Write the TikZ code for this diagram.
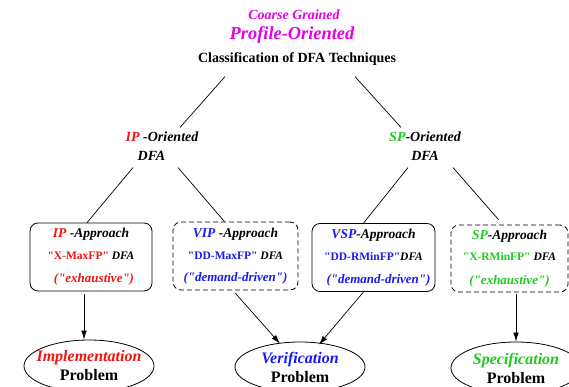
\documentclass[tikz,border=0pt]{standalone}
\usepackage{fontspec}
\setmainfont{Liberation Serif}[Ligatures=TeXOff]
\usetikzlibrary{shapes.geometric, arrows.meta, calc}
\definecolor{coarsemag}{RGB}{230, 0, 230}
\definecolor{ipred}{RGB}{240, 20, 20}
\definecolor{vipblue}{RGB}{25, 25, 240}
\definecolor{spgreen}{RGB}{30, 200, 30}
\newcommand{\bfit}{\bfseries\itshape}
\newcommand{\fsz}[1]{\fontsize{#1}{19}\selectfont}

\tikzset{
    label text/.style={inner sep=1pt, font=\bfit},
    approach/.style={draw, rounded corners=8pt, line width=0.8pt, minimum width=122pt,
                     minimum height=68pt, inner sep=2pt, align=center,
                     font=\fontsize{12}{21.5}\selectfont},
    ddbox/.style={approach, dash pattern=on 5pt off 3pt},
    problem/.style={ellipse, draw, line width=0.8pt, minimum width=130pt,
                    minimum height=52pt, inner xsep=-12pt, inner ysep=-5pt, align=center,
                    font=\fontsize{16}{19}\selectfont},
    link/.style={line width=0.7pt},
    flow/.style={line width=0.7pt, -{Latex[length=9pt, width=5.5pt]}}
}

\begin{document}
\begin{tikzpicture}[x=1pt, y=-1pt]
    \useasboundingbox (0,0) rectangle (569,387);

    % heading
    \node[label text, text=coarsemag, font=\bfit\fsz{14}] (coarse) at (294,15) {Coarse Grained};
    \node[label text, text=coarsemag, font=\bfit\fsz{18.4}] (profile) at (292,35) {Profile-Oriented};
    \node[inner sep=1pt, font=\bfseries\fsz{14}] (title) at (297,59) {Classification of DFA Techniques};

    % IP / SP oriented
    \node[label text, font=\bfit\fsz{14}, align=left] (ipor) at (162,146)
        {\textcolor{ipred}{IP} -Oriented\\\hspace*{12pt}DFA};
    \node[label text, font=\bfit\fsz{14}, align=center] (spor) at (425,146)
        {\textcolor{spgreen}{SP}-Oriented\\DFA};

    % approach boxes
    \node[approach] (ipbox) at (91,257) {
        {\bfit\fsz{13.5}\textcolor{ipred}{IP} -Approach}\\
        {\bfseries\fsz{11.5}\textcolor{ipred}{"X-MaxFP"} {\itshape DFA}}\\[2pt]
        {\bfit\fsz{13}\textcolor{ipred}{\hspace*{6pt}("exhaustive")}}
    };
    \node[ddbox, minimum width=125pt] (vipbox) at (235.5,256) {
        {\bfit\fsz{13.5}\textcolor{vipblue}{VIP} -Approach}\\
        {\bfseries\fsz{11.5}\textcolor{vipblue}{"DD-MaxFP"} {\itshape DFA}}\\[0.5pt]
        {\bfit\fsz{13}\textcolor{vipblue}{("demand-driven")}}
    };
    \node[approach, minimum width=123pt] (vspbox) at (373.5,257.5) {
        {\bfit\fsz{13.5}\textcolor{vipblue}{VSP}-Approach}\\
        {\bfseries\fsz{11.5}\textcolor{vipblue}{"DD-RMinFP"}{\itshape DFA}}\\[1.5pt]
        {\bfit\fsz{13}\textcolor{vipblue}{\hspace*{10pt}("demand-driven")}}
    };
    \node[ddbox, minimum width=117pt, minimum height=67pt] (spbox) at (509.5,258.5) {
        {\bfit\fsz{13.5}\textcolor{spgreen}{SP}-Approach}\\
        {\bfseries\fsz{11.5}\textcolor{spgreen}{"X-RMinFP"} {\itshape DFA}}\\[2.5pt]
        {\bfit\fsz{13}\textcolor{spgreen}{("exhaustive")}}
    };

    % problems
    \node[problem] (impl) at (89,366) {
        {\bfit\textcolor{ipred}{Implementation}}\\
        {\bfseries Problem}};
    \node[problem, minimum height=50pt] (verif) at (300,367) {
        {\bfit\textcolor{vipblue}{Verification}}\\
        {\bfseries Problem}};
    \node[problem] (spec) at (516,368) {
        {\bfit\textcolor{spgreen}{Specification}}\\
        {\bfseries Problem}};

    % tree lines
    \draw[link] ([xshift=-72pt, yshift=-10pt]title.south) -- ([xshift=18pt, yshift=3pt]ipor.north);
    \draw[link] ([xshift=58pt, yshift=-10pt]title.south) -- ([xshift=-24pt, yshift=3pt]spor.north);
    \draw[link] ([xshift=-29pt, yshift=-6pt]ipor.south) -- ([xshift=-4pt]ipbox.north);
    \draw[link] ([xshift=16pt, yshift=-6pt]ipor.south) -- ([xshift=-11pt]vipbox.north);
    \draw[link] ([xshift=-17pt, yshift=-6pt]spor.south) -- ([xshift=-10pt]vspbox.north);
    \draw[link] ([xshift=28pt, yshift=-6pt]spor.south) -- ([xshift=-11pt, yshift=5pt]spbox.north);

    % arrows to problems
    \draw[flow] ([xshift=-7pt, yshift=-3pt]ipbox.south) -- ([xshift=-5pt]impl.north);
    \draw[flow] ([yshift=-3pt]vipbox.south) -- ([xshift=-20pt, yshift=-2pt]verif.north);
    \draw[flow] ([xshift=-10pt]vspbox.south) -- ([xshift=19pt, yshift=-3pt]verif.north);
    \draw[flow] ([xshift=6.5pt, yshift=-2pt]spbox.south) -- (spec.north);
\end{tikzpicture}
\end{document}
